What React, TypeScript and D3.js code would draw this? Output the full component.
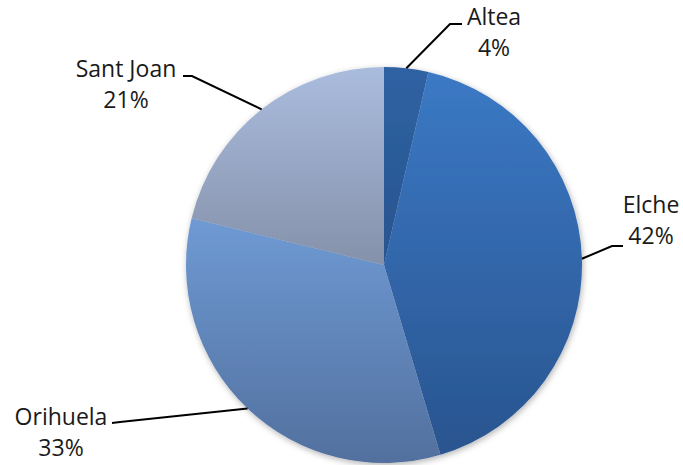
import React from "react";
import * as d3 from "d3";

const categories = ["Altea", "Elche", "Orihuela", "Sant Joan"];
const values = [3.6, 41.8, 33.4, 21.2];
const topColors = ["#2F62A3", "#3B79C5", "#6F9AD4", "#AABCDE"];
const bottomColors = ["#28548F", "#29548F", "#52709E", "#8591AA"];

// label layout: elbow point and label text centre (layout, not data)
const labelLayout = [
  { elbow: [450, 24], lineEnd: [462, 24], text: [494, 25] },
  { elbow: [612, 246], lineEnd: [623, 246], text: [651, 213] },
  { elbow: [120, 422], lineEnd: [112, 423], text: [61, 425] },
  { elbow: [192, 76], lineEnd: [183, 76], text: [126, 77] },
];

const W = 683;
const H = 465;
const CX = 384;
const CY = 265;
const R = 198;

export default function App() {
  const pie = d3.pie<number>().sort(null).value((d) => d)(values);
  const arc = d3.arc<d3.PieArcDatum<number>>().innerRadius(0).outerRadius(R);
  const total = d3.sum(values);
  const font = "'Open Sans', sans-serif";

  return (
    <svg
      width={W}
      height={H}
      style={{ position: "absolute", left: 0, top: 0, background: "#fff" }}
    >
      <defs>
        {categories.map((c, i) => (
          <linearGradient key={c} id={`g${i}`} x1="0" y1="0" x2="0" y2="1">
            <stop offset="0" stopColor={topColors[i]} />
            <stop offset="1" stopColor={bottomColors[i]} />
          </linearGradient>
        ))}
        <filter id="shadow" x="-10%" y="-10%" width="120%" height="120%">
          <feDropShadow dx="1" dy="2" stdDeviation="3" floodColor="#000" floodOpacity="0.3" />
        </filter>
      </defs>
      <g transform={`translate(${CX},${CY})`} filter="url(#shadow)">
        {pie.map((p, i) => (
          <path key={categories[i]} d={arc(p) || ""} fill={`url(#g${i})`} />
        ))}
      </g>
      {pie.map((p, i) => {
        const mid = (p.startAngle + p.endAngle) / 2;
        const ax = CX + R * Math.sin(mid);
        const ay = CY - R * Math.cos(mid);
        const L = labelLayout[i];
        const pct = Math.round((values[i] / total) * 100);
        return (
          <g key={categories[i]}>
            <polyline
              points={`${ax},${ay} ${L.elbow[0]},${L.elbow[1]} ${L.lineEnd[0]},${L.lineEnd[1]}`}
              fill="none"
              stroke="#000"
              strokeWidth={2}
            />
            <text
              x={L.text[0]}
              y={L.text[1]}
              textAnchor="middle"
              fontFamily={font}
              fontSize={23}
              fill="#1a1a1a"
            >
              <tspan x={L.text[0]}>{categories[i]}</tspan>
              <tspan x={L.text[0]} dy={31}>{`${pct}%`}</tspan>
            </text>
          </g>
        );
      })}
    </svg>
  );
}
